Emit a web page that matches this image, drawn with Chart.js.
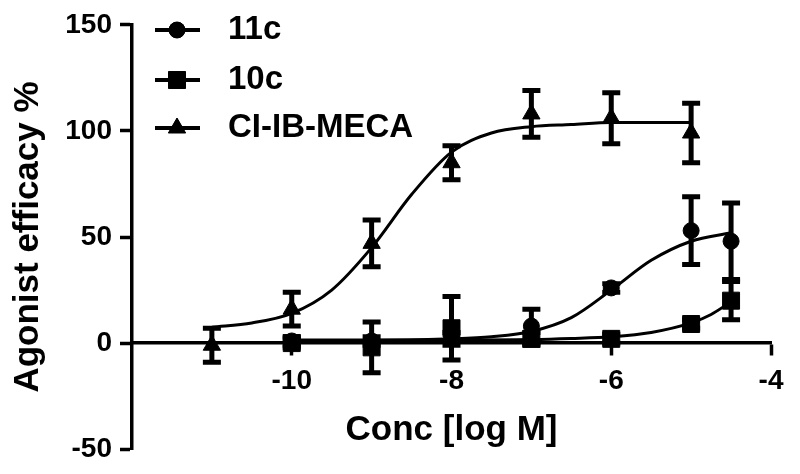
<!DOCTYPE html>
<html>
<head>
<meta charset="utf-8">
<script src="https://cdn.jsdelivr.net/npm/chart.js@4.4.1/dist/chart.umd.min.js"></script>
<style>
  html, body { margin: 0; padding: 0; background: #fff; }
  #wrap { width: 800px; height: 474px; }
</style>
</head>
<body>
<div id="wrap"><canvas id="effChart" width="800" height="474"></canvas></div>
<script>
// ticks
const xTicks = [-10, -8, -6, -4];
const yTicks = [-50, 0, 50, 100, 150];

// measured points (mean, sem)
const mecaX = [-11, -10, -9, -8, -7, -6, -5];
const mecaY = [-1, 16, 47, 85, 108, 106, 99];
const mecaErr = [8, 8, 11, 8, 11, 12, 14];

const c11X = [-10, -9, -8, -7, -6, -5, -4.5];
const c11Y = [1, 1, 2, 8, 26, 53, 48];
const c11Err = [2, 2, 3, 8, 2, 16, 18];

const c10X = [-10, -9, -8, -7, -6, -5, -4.5];
const c10Y = [0, -2, 7, 2, 2, 9, 20];
const c10Err = [2, 12, 15, 3, 2, 2, 9];

// fitted curves
const mecaCurveX = [-11, -10.5, -10, -9.5, -9, -8.5, -8, -7.5, -7, -6.5, -6, -5.5, -5];
const mecaCurveY = [7.5, 9.5, 14, 25, 45, 70, 90, 99, 102, 103, 104, 104, 104];
const c11CurveX = [-10, -9, -8, -7.5, -7, -6.5, -6, -5.5, -5, -4.5];
const c11CurveY = [1, 1.2, 2, 3, 5.5, 12, 25, 39, 48, 52];
const c10CurveX = [-10, -9, -8, -7, -6.5, -6, -5.5, -5, -4.75, -4.5];
const c10CurveY = [1.5, 1.5, 1.5, 1.7, 2.2, 3, 5, 9.5, 13.5, 19.5];

const FONT = "'Liberation Sans', Arial, sans-serif";

const toXY = (xs, ys) => xs.map((x, i) => ({ x: x, y: ys[i] }));

const pointSet = (label, xs, ys, errs, style, radius) => ({
  label: label,
  data: toXY(xs, ys),
  errors: errs,
  showLine: false,
  pointStyle: style,
  pointRadius: radius,
  backgroundColor: "#000",
  borderColor: "#000",
  borderWidth: 1,
});

const curveSet = (xs, ys) => ({
  type: "line",
  data: toXY(xs, ys),
  borderColor: "#000",
  borderWidth: 3,
  pointRadius: 0,
  fill: false,
  cubicInterpolationMode: "monotone",
});

// error bars with caps
const errorBars = {
  id: "errorBars",
  afterDatasetsDraw(chart) {
    const { ctx, scales } = chart;
    ctx.save();
    ctx.strokeStyle = "#000";
    ctx.lineWidth = 5;
    chart.data.datasets.forEach((ds) => {
      if (!ds.errors) return;
      ds.data.forEach((p, i) => {
        const e = ds.errors[i];
        const x = scales.x.getPixelForValue(p.x);
        const yTop = scales.y.getPixelForValue(p.y + e);
        const yBot = scales.y.getPixelForValue(p.y - e);
        ctx.beginPath();
        ctx.moveTo(x, yTop);
        ctx.lineTo(x, yBot);
        ctx.moveTo(x - 9, yTop);
        ctx.lineTo(x + 9, yTop);
        ctx.moveTo(x - 9, yBot);
        ctx.lineTo(x + 9, yBot);
        ctx.stroke();
      });
    });
    ctx.restore();
  },
};

// legend: line + marker + label
const legendBox = {
  id: "legendBox",
  afterDraw(chart) {
    const ctx = chart.ctx;
    const items = [
      { text: "11c", style: "circle", radius: 8, y: 30 },
      { text: "10c", style: "rect", radius: 12, y: 80 },
      { text: "CI-IB-MECA", style: "triangle", radius: 10, y: 128 },
    ];
    ctx.save();
    items.forEach((it) => {
      ctx.strokeStyle = "#000";
      ctx.lineWidth = 4;
      ctx.beginPath();
      ctx.moveTo(155, it.y);
      ctx.lineTo(200, it.y);
      ctx.stroke();
      ctx.fillStyle = "#000";
      ctx.lineWidth = 1;
      Chart.helpers.drawPoint(ctx, {
        pointStyle: it.style,
        radius: it.radius,
        borderWidth: 1,
        rotation: 0,
      }, 177, it.y);
      ctx.fill();
      ctx.font = "bold 33px " + FONT;
      ctx.textBaseline = "middle";
      ctx.textAlign = "left";
      ctx.fillText(it.text, 228, it.y);
    });
    ctx.restore();
  },
};

new Chart(document.getElementById("effChart"), {
  type: "scatter",
  data: {
    datasets: [
      pointSet("11c", c11X, c11Y, c11Err, "circle", 8),
      pointSet("10c", c10X, c10Y, c10Err, "rect", 12),
      pointSet("CI-IB-MECA", mecaX, mecaY, mecaErr, "triangle", 10),
      curveSet(c11CurveX, c11CurveY),
      curveSet(c10CurveX, c10CurveY),
      curveSet(mecaCurveX, mecaCurveY),
    ],
  },
  options: {
    responsive: false,
    animation: false,
    layout: { padding: { top: 24, right: 29, bottom: 23, left: 0 } },
    plugins: {
      legend: { display: false },
      tooltip: { enabled: false },
    },
    scales: {
      x: {
        type: "linear",
        position: { y: 0 },
        min: -12,
        max: -4,
        afterBuildTicks: (axis) => {
          axis.ticks = xTicks.map((v) => ({ value: v }));
        },
        ticks: {
          color: "#000",
          font: { family: FONT, size: 28, weight: "bold" },
          padding: 10,
          maxRotation: 0,
        },
        grid: {
          drawOnChartArea: false,
          drawTicks: true,
          tickLength: 11,
          tickWidth: 3.5,
          color: "#000",
        },
        border: { display: true, width: 3.5, color: "#000" },
        title: {
          display: true,
          text: "Conc [log M]",
          color: "#000",
          font: { family: FONT, size: 35, weight: "bold" },
          padding: { top: 2, bottom: 0 },
        },
      },
      y: {
        type: "linear",
        position: "left",
        min: -50,
        max: 150,
        afterBuildTicks: (axis) => {
          axis.ticks = yTicks.map((v) => ({ value: v }));
        },
        afterFit: (axis) => {
          axis.width = 132;
        },
        ticks: {
          color: "#000",
          font: { family: FONT, size: 28, weight: "bold" },
          padding: 8,
        },
        grid: {
          drawOnChartArea: false,
          drawTicks: true,
          tickLength: 12,
          tickWidth: 3.5,
          color: "#000",
        },
        border: { display: true, width: 3.5, color: "#000" },
        title: {
          display: true,
          text: "Agonist efficacy %",
          color: "#000",
          font: { family: FONT, size: 35, weight: "bold" },
          padding: { top: 7, bottom: 0 },
        },
      },
    },
  },
  plugins: [errorBars, legendBox],
});
</script>
</body>
</html>
